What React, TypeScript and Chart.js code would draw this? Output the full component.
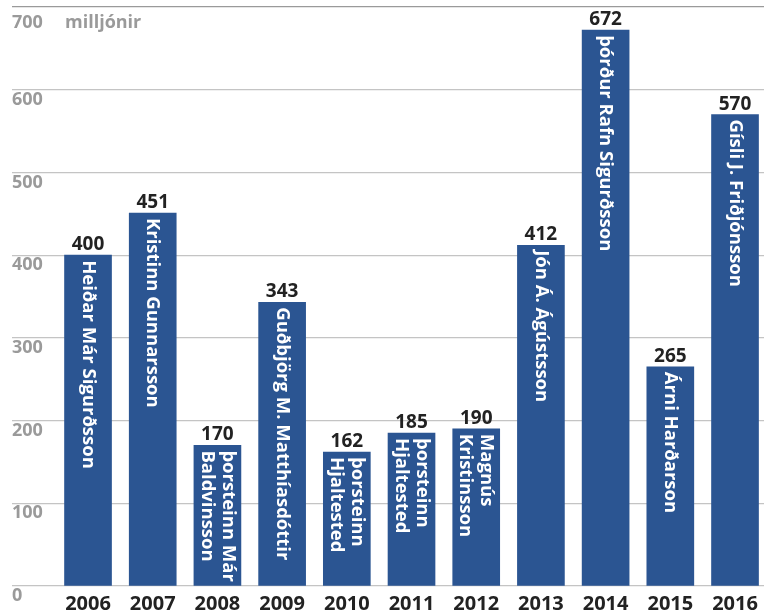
import React, { useEffect, useRef } from 'react';
import { Chart, registerables } from 'chart.js';

Chart.register(...registerables);

const years = ['2006', '2007', '2008', '2009', '2010', '2011', '2012', '2013', '2014', '2015', '2016'];
const values = [400, 451, 170, 343, 162, 185, 190, 412, 672, 265, 570];
const names: string[][] = [
  ['Heiðar Már Sigurðsson'],
  ['Kristinn Gunnarsson'],
  ['þorsteinn Már', 'Baldvinsson'],
  ['Guðbjörg M. Matthíasdóttir'],
  ['þorsteinn', 'Hjaltested'],
  ['þorsteinn', 'Hjaltested'],
  ['Magnús', 'Kristinsson'],
  ['Jón Á. Ágústsson'],
  ['þórður Rafn Sigurðsson'],
  ['Árni Harðarson'],
  ['Gísli J. Friðjónsson'],
];
const yTicks = [0, 100, 200, 300, 400, 500, 600, 700];
const unitLabel = 'milljónir';

const FONT = '"Open Sans", "DejaVu Sans", sans-serif';
const BAR = '#2B5592';
const GREY = '#9a9a9a';

const labelsPlugin = {
  id: 'barLabels',
  afterDatasetsDraw(chart: any) {
    const ctx = chart.ctx;
    const meta = chart.getDatasetMeta(0);
    const yScale = chart.scales.y;
    ctx.save();
    const topVal = yTicks[yTicks.length - 1];
    const topY = yScale.getPixelForValue(topVal) + 16;
    ctx.fillStyle = GREY;
    ctx.font = `bold 18px ${FONT}`;
    ctx.textAlign = 'left';
    ctx.textBaseline = 'middle';
    ctx.fillText(String(topVal), chart.chartArea.left, topY);
    ctx.fillText(unitLabel, 65, topY);

    meta.data.forEach((bar: any, i: number) => {
      ctx.fillStyle = '#222';
      ctx.font = `bold 19px ${FONT}`;
      ctx.textAlign = 'center';
      ctx.textBaseline = 'alphabetic';
      ctx.fillText(String(values[i]), bar.x, bar.y - 5);

      const lines = names[i];
      const n = lines.length;
      const spacing = 21;
      ctx.save();
      ctx.translate(bar.x, bar.y + 5);
      ctx.rotate(Math.PI / 2);
      ctx.fillStyle = '#ffffff';
      ctx.font = `bold 18.5px ${FONT}`;
      ctx.textAlign = 'left';
      ctx.textBaseline = 'middle';
      lines.forEach((line, j) => {
        ctx.fillText(line, 0, (j - (n - 1) / 2) * spacing);
      });
      ctx.restore();
    });
    ctx.restore();
  },
};

export default function App() {
  const ref = useRef<HTMLCanvasElement | null>(null);

  useEffect(() => {
    document.body.style.margin = '0';
    const canvas = ref.current;
    if (!canvas) return;
    const chart = new Chart(canvas, {
      type: 'bar',
      data: {
        datasets: [
          {
            data: values.map((v, i) => ({ x: i, y: v })),
            backgroundColor: BAR,
            borderWidth: 0,
            barThickness: 47,
          },
        ],
      },
      options: {
        animation: false,
        responsive: false,
        layout: { padding: { left: 12, right: 0, top: 7, bottom: 0 } },
        plugins: {
          legend: { display: false },
          tooltip: { enabled: false },
        },
        scales: {
          x: {
            type: 'linear',
            offset: false,
            min: -1.175,
            max: 10.448,
            grid: { display: false, drawTicks: false, offset: false },
            border: { display: false },
            afterBuildTicks: (scale: any) => {
              scale.ticks = years.map((_, i) => ({ value: i }));
            },
            afterFit: (scale: any) => {
              scale.paddingLeft = 0;
              scale.paddingRight = 0;
              scale.height = 27;
            },
            ticks: {
              autoSkip: false,
              maxRotation: 0,
              minRotation: 0,
              padding: 8,
              color: '#222',
              font: { family: FONT, size: 20, weight: 'bold', lineHeight: 1 },
              callback: (v: any) => years[v] ?? '',
            },
          },
          y: {
            min: 0,
            max: 700,
            afterBuildTicks: (scale: any) => {
              scale.ticks = yTicks.map((v) => ({ value: v }));
            },
            afterFit: (scale: any) => {
              scale.paddingTop = 0;
              scale.paddingBottom = 0;
            },
            grid: {
              drawTicks: false,
              color: (c: any) => (c.tick && c.tick.value === 700 ? '#9a9a9a' : '#c4c4c4'),
              lineWidth: 1.2,
            },
            border: { display: false },
            ticks: {
              mirror: true,
              padding: 0,
              labelOffset: 10,
              color: GREY,
              font: { family: FONT, size: 18, weight: 'bold' },
              callback: (v: any) => (v === 700 ? '' : String(v)),
            },
          },
        },
      },
      plugins: [labelsPlugin],
    } as any);
    return () => chart.destroy();
  }, []);

  return (
    <div style={{ width: 764, height: 613 }}>
      <canvas ref={ref} width={764} height={613} style={{ display: 'block' }} />
    </div>
  );
}
